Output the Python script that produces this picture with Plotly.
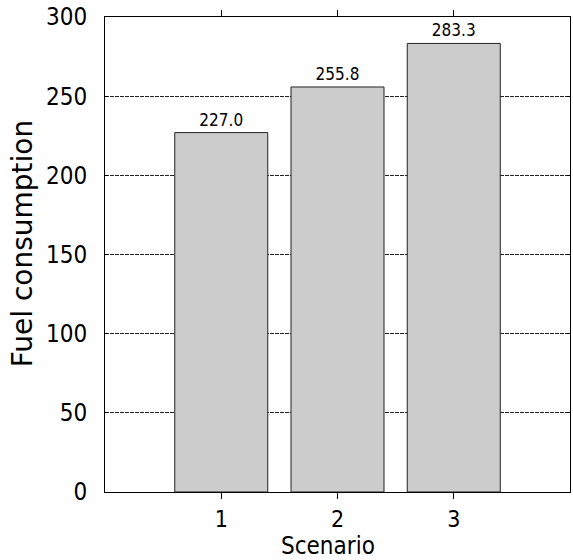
import plotly.graph_objects as go

scenarios = [1, 2, 3]
fuel = [227.0, 255.8, 283.3]
labels = ["227.0", "255.8", "283.3"]

tickfont = "DejaVu Sans Condensed, DejaVu Sans, sans-serif"
titlefont = "DejaVu Sans, Verdana, sans-serif"

fig = go.Figure(go.Bar(
    x=scenarios, y=fuel, width=0.8,
    marker=dict(color="#cccccc", line=dict(color="#222222", width=1)),
    text=labels, textposition="outside", cliponaxis=False,
    textfont=dict(size=17, color="black", family=tickfont),
))

fig.update_layout(
    width=573, height=560, autosize=False,
    margin=dict(l=105, r=3, t=17, b=68),
    plot_bgcolor="white", paper_bgcolor="white",
    showlegend=False,
    font=dict(family=tickfont, color="black"),
    xaxis=dict(
        range=[0, 4], tickvals=[1, 2, 3], ticktext=["1", "2", "3"],
        showgrid=False, zeroline=False, automargin=False,
        showline=True, linecolor="black", linewidth=1, mirror="ticks",
        ticks="outside", ticklen=6, tickcolor="black",
        tickfont=dict(size=23, family=tickfont),
    ),
    yaxis=dict(
        range=[0, 300], tickvals=[0, 50, 100, 150, 200, 250, 300],
        showgrid=True, gridcolor="#222222", gridwidth=1, griddash="4px,1px",
        zeroline=False, automargin=False,
        showline=True, linecolor="black", linewidth=1, mirror="ticks",
        ticks="inside", ticklen=3, tickcolor="black",
        tickfont=dict(size=24, family=tickfont),
        ticklabelstandoff=12,
    ),
    annotations=[
        dict(text="Fuel consumption", textangle=-90, showarrow=False,
             xref="paper", yref="paper", x=-0.178, y=0.524,
             xanchor="center", yanchor="middle",
             font=dict(size=28, family=titlefont, color="black")),
        dict(text="Scenario", showarrow=False,
             xref="paper", yref="paper", x=0.48, y=-0.1137,
             xanchor="center", yanchor="middle",
             font=dict(size=24, family=tickfont, color="black")),
    ],
)

post = ("document.body.style.margin='0px';"
        "document.body.style.overflow='hidden';"
        "Plotly.relayout('{plot_id}', {width: 573, height: 560});")

fig.write_html("out.html", post_script=post, config={"displayModeBar": False})
